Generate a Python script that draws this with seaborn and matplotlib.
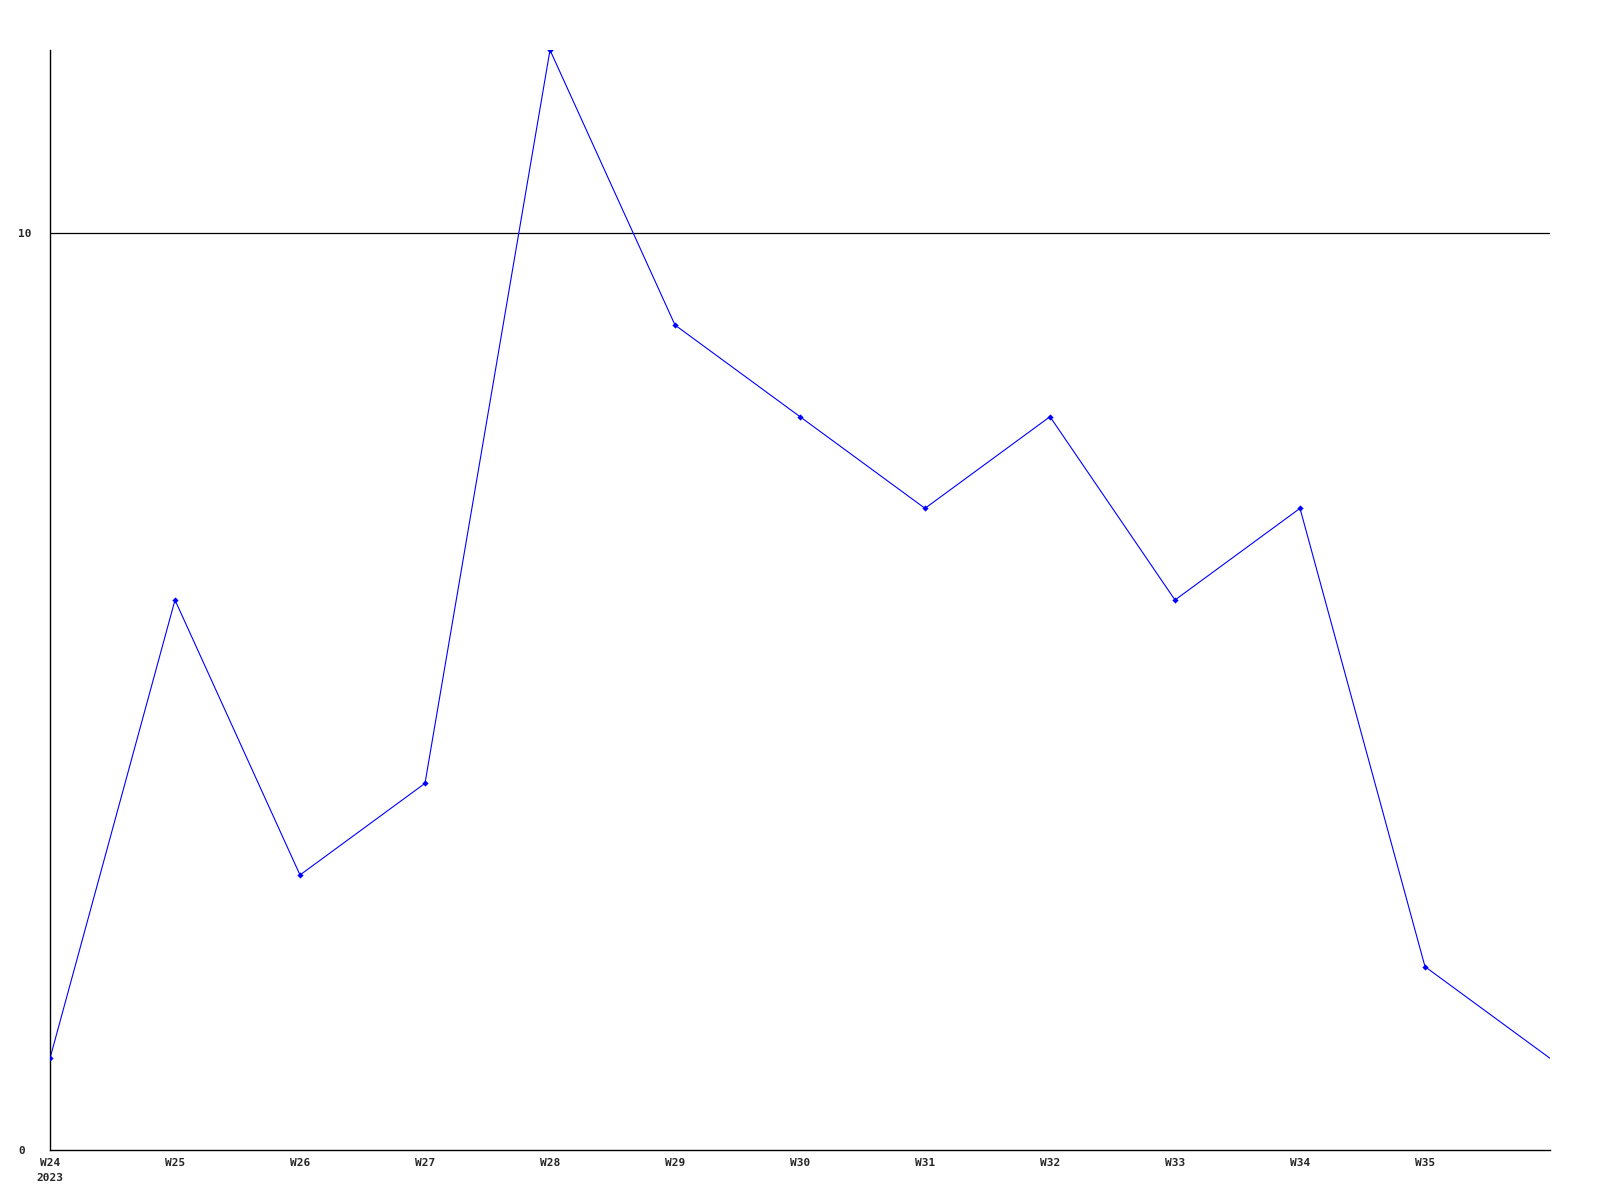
import matplotlib
matplotlib.use("Agg")
import matplotlib.pyplot as plt
import seaborn as sns
import pandas as pd

weeks = ["W24", "W25", "W26", "W27", "W28", "W29", "W30", "W31", "W32", "W33", "W34", "W35", "W36"]
values = [1, 6, 3, 4, 12, 9, 8, 7, 8, 6, 7, 2, 1]
tick_labels = ["W24\n2023", "W25", "W26", "W27", "W28", "W29", "W30", "W31", "W32", "W33", "W34", "W35", ""]
y_ticks = [0, 10]

sns.set_style("white")
plt.rcParams['font.family'] = ['DejaVu Sans Mono']

df = pd.DataFrame({"idx": range(len(weeks)), "week": weeks, "value": values})

fig = plt.figure(figsize=(16, 12), dpi=100)
ax = fig.add_axes([0.03125, 0.0417, 0.9375, 0.9166])

sns.lineplot(data=df, x="idx", y="value", ax=ax, color="#0000ff", linewidth=0.8)
marked = df.iloc[:-1]
ax.scatter(marked["idx"], marked["value"], marker="D", s=10, color="#0000ff", zorder=3, linewidths=0)

ax.set_xlim(0, len(weeks) - 1)
ax.set_ylim(0, 12)
ax.axhline(10, color="black", linewidth=0.9, zorder=1)

ax.set_xticks(list(range(len(weeks))))
ax.set_xticklabels(tick_labels, fontsize=8, fontweight="bold", linespacing=1.6, va="top")
ax.set_yticks(y_ticks)
ax.set_yticklabels([str(t) for t in y_ticks], fontsize=8, fontweight="bold")
ax.tick_params(axis="both", length=0)
ax.tick_params(axis="x", pad=6)
ax.tick_params(axis="y", pad=23)
for lbl in ax.get_xticklabels():
    lbl.set_ha("center")
for lbl in ax.get_yticklabels():
    lbl.set_ha("left")

ax.set_xlabel("")
ax.set_ylabel("")
for side in ["top", "right"]:
    ax.spines[side].set_visible(False)
for side in ["left", "bottom"]:
    ax.spines[side].set_color("black")
    ax.spines[side].set_linewidth(1.0)
ax.grid(False)

fig.savefig("out.png", dpi=100)
